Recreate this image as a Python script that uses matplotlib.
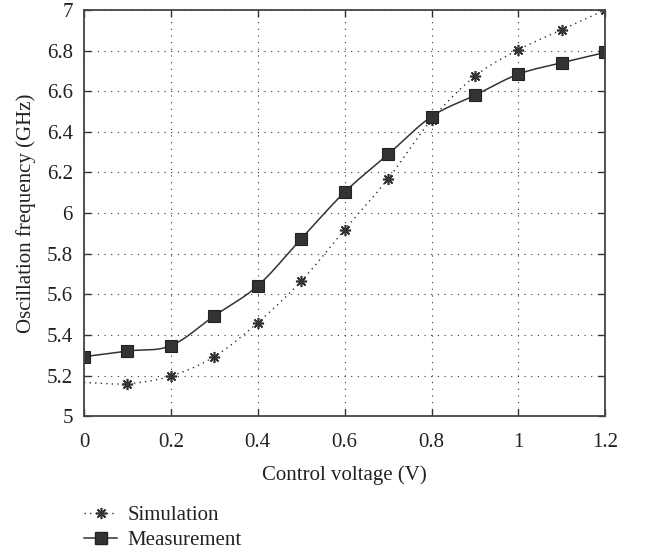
#!/usr/bin/env python3
"""Oscillation frequency vs control voltage: simulation vs measurement."""

import numpy as np
import matplotlib
matplotlib.use("Agg")
import matplotlib.pyplot as plt
from matplotlib.lines import Line2D

voltage = [0.0, 0.1, 0.2, 0.3, 0.4, 0.5, 0.6, 0.7, 0.8, 0.9, 1.0, 1.1, 1.2]
simulation = [5.166, 5.16, 5.198, 5.293, 5.461, 5.665, 5.919, 6.169, 6.46, 6.674, 6.804, 6.903, 7.0]
measurement = [5.293, 5.321, 5.347, 5.494, 5.642, 5.873, 6.103, 6.289, 6.475, 6.58, 6.684, 6.74, 6.791]

x_ticks = [0, 0.2, 0.4, 0.6, 0.8, 1.0, 1.2]
x_labels = ["0", "0.2", "0.4", "0.6", "0.8", "1", "1.2"]
y_ticks = [5, 5.2, 5.4, 5.6, 5.8, 6, 6.2, 6.4, 6.6, 6.8, 7]
y_labels = ["5", "5.2", "5.4", "5.6", "5.8", "6", "6.2", "6.4", "6.6", "6.8", "7"]


def smooth(x, y, n=300):
    """Catmull-Rom curve through the points, for drawing only."""
    x = np.asarray(x, float)
    y = np.asarray(y, float)
    h = np.diff(x)
    d = np.gradient(y, x)
    xs = np.linspace(x[0], x[-1], n)
    idx = np.clip(np.searchsorted(x, xs) - 1, 0, len(x) - 2)
    t = (xs - x[idx]) / h[idx]
    h00 = 2 * t ** 3 - 3 * t ** 2 + 1
    h10 = t ** 3 - 2 * t ** 2 + t
    h01 = -2 * t ** 3 + 3 * t ** 2
    h11 = t ** 3 - t ** 2
    ys = (h00 * y[idx] + h10 * h[idx] * d[idx]
          + h01 * y[idx + 1] + h11 * h[idx] * d[idx + 1])
    return xs, ys


def main():
    plt.rcParams["font.family"] = ["Liberation Serif", "DejaVu Serif"]
    plt.rcParams["font.size"] = 15

    fig = plt.figure(figsize=(6.46, 5.52), dpi=100)
    ax = fig.add_axes([0.130, 0.246, 0.807, 0.736])

    ink = "#333333"

    xs, ys = smooth(voltage, simulation)
    ax.plot(xs, ys, linestyle=(0, (1, 3)), color=ink, lw=1.0)
    ax.plot(voltage[1:], simulation[1:], linestyle="none", marker=(8, 2, 0),
            ms=8, mew=1.2, color=ink)

    xm, ym = smooth(voltage, measurement)
    ax.plot(xm, ym, "-", color=ink, lw=1.1)
    ax.plot(voltage, measurement, linestyle="none", marker="s", ms=8.5,
            mfc=ink, mec="#222222", mew=0.8)

    ax.set_xlim(0, 1.2)
    ax.set_ylim(5, 7)
    ax.set_xticks(x_ticks)
    ax.set_xticklabels(x_labels)
    ax.set_yticks(y_ticks)
    ax.set_yticklabels(y_labels)
    ax.tick_params(direction="in", top=True, right=True, length=5,
                   width=1.0, colors=ink, labelcolor="#222222", pad=12)
    ax.tick_params(axis="y", pad=8)
    ax.grid(True, linestyle=(0, (1, 5)), color=ink, lw=0.8)
    for s in ax.spines.values():
        s.set_color("#444444")
        s.set_linewidth(1.3)

    ax.set_xlabel("Control voltage (V)", color="#222222", labelpad=10)
    ax.set_ylabel("Oscillation frequency (GHz)", color="#222222", labelpad=8)

    handles = [
        Line2D([], [], linestyle=(0, (1, 3)), color=ink, lw=1.0,
               marker=(8, 2, 0), ms=8, mew=1.2),
        Line2D([], [], linestyle="-", color=ink, lw=1.1, marker="s",
               ms=8.5, mfc=ink, mec="#222222"),
    ]
    fig.legend(handles, ["Simulation", "Measurement"], loc="upper left",
               bbox_to_anchor=(0.117, 0.099), frameon=False, handlelength=1.6,
               handletextpad=0.5, labelspacing=0.25, borderaxespad=0,
               labelcolor="#222222")

    fig.savefig("out.png", dpi=100)


if __name__ == "__main__":
    main()
